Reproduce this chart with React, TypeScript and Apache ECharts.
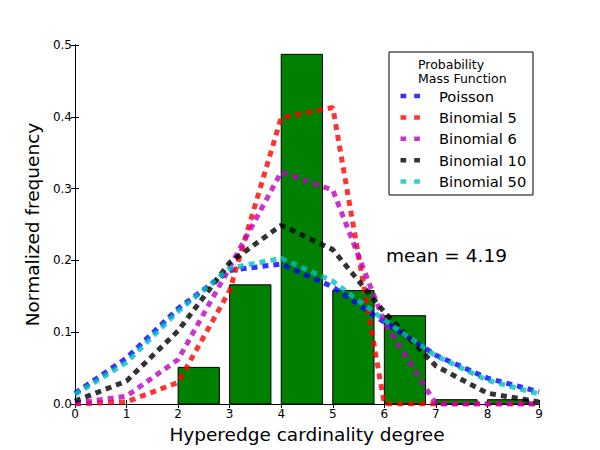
import React, { useEffect, useRef } from "react";
import * as echarts from "echarts";

const degrees = [0, 1, 2, 3, 4, 5, 6, 7, 8, 9];
const barDegrees = [2, 3, 4, 5, 6, 7, 8];
const barFreq = [0.051, 0.166, 0.487, 0.158, 0.123, 0.006, 0.006];

const poisson = [0.015, 0.064, 0.133, 0.186, 0.195, 0.163, 0.114, 0.068, 0.036, 0.017];
const binomial5 = [0.0, 0.003, 0.03, 0.158, 0.399, 0.413, 0.0, 0.0, 0.0, 0.0];
const binomial6 = [0.001, 0.011, 0.062, 0.19, 0.323, 0.298, 0.114, 0.0, 0.0, 0.0];
const binomial10 = [0.004, 0.032, 0.102, 0.197, 0.249, 0.215, 0.128, 0.053, 0.015, 0.003];
const binomial50 = [0.013, 0.058, 0.129, 0.189, 0.203, 0.171, 0.117, 0.067, 0.033, 0.014];

const seriesNames = ["Poisson", "Binomial 5", "Binomial 6", "Binomial 10", "Binomial 50"];
const seriesValues = [poisson, binomial5, binomial6, binomial10, binomial50];
const seriesColors = [
  "rgba(0,0,255,0.8)",
  "rgba(255,0,0,0.8)",
  "rgba(191,0,191,0.8)",
  "rgba(0,0,0,0.8)",
  "rgba(0,191,191,0.8)",
];

const xTicks = [0, 1, 2, 3, 4, 5, 6, 7, 8, 9];
const yTicks = [0.0, 0.1, 0.2, 0.3, 0.4, 0.5];
const legendTitle = ["Probability", "Mass Function"];
const meanLabel = "mean = 4.19";

const FONT = "'DejaVu Sans', sans-serif";

export default function App() {
  const ref = useRef<HTMLDivElement>(null);
  useEffect(() => {
    document.body.style.margin = "0";
    if (!ref.current) return;
    const chart = echarts.init(ref.current, undefined, { renderer: "svg" });

    const lineSeries = seriesNames.map((name, i) => ({
      name,
      type: "line",
      data: degrees.map((d, j) => [d, seriesValues[i][j]]),
      symbol: "none",
      z: 3 + i,
      lineStyle: { color: seriesColors[i], width: 5, type: [6, 5], cap: "butt" },
      itemStyle: { color: seriesColors[i] },
      silent: true,
    }));

    const legendX = 389;
    const legendY = 52;
    const legendW = 144;
    const legendH = 143;
    const legendItems: any[] = [
      {
        type: "rect",
        shape: { x: legendX, y: legendY, width: legendW, height: legendH },
        style: { fill: "#fff", stroke: "#000", lineWidth: 1 },
        z: 20,
      },
      {
        type: "text",
        x: 418,
        y: 64,
        style: { text: legendTitle[0], font: `12.5px ${FONT}`, fill: "#000", verticalAlign: "middle" },
        z: 21,
      },
      {
        type: "text",
        x: 418,
        y: 78,
        style: { text: legendTitle[1], font: `12.5px ${FONT}`, fill: "#000", verticalAlign: "middle" },
        z: 21,
      },
    ];
    seriesNames.forEach((name, i) => {
      const cy = 96 + i * 21.4;
      legendItems.push({
        type: "line",
        shape: { x1: 400.5, y1: cy, x2: 420, y2: cy },
        style: { stroke: seriesColors[i], lineWidth: 4.5, lineDash: [5.7, 8] },
        z: 21,
      });
      legendItems.push({
        type: "text",
        x: 439,
        y: cy,
        style: { text: name, font: `14.7px ${FONT}`, fill: "#000", verticalAlign: "middle" },
        z: 21,
      });
    });
    legendItems.push({
      type: "text",
      x: 386,
      y: 255,
      style: { text: meanLabel, font: `18.5px ${FONT}`, fill: "#000", verticalAlign: "middle" },
      z: 21,
    });

    const axisCommon = {
      type: "value",
      axisLine: { show: true, lineStyle: { color: "#000", width: 1 } },
      axisTick: { show: true, inside: true, length: 4, lineStyle: { color: "#000" } },
      splitLine: { show: false },
    };

    chart.setOption({
      animation: false,
      grid: { left: 75, right: 61, top: 45, bottom: 46, show: false },
      xAxis: [
        {
          ...axisCommon,
          min: 0,
          max: 9,
          interval: 1,
          position: "bottom",
          name: "Hyperedge cardinality degree",
          nameLocation: "middle",
          nameGap: 16,
          nameTextStyle: { fontFamily: FONT, fontSize: 18.5, color: "#000" },
          axisLabel: {
            show: true,
            margin: 4,
            fontFamily: FONT,
            fontSize: 12,
            color: "#000",
            formatter: (v: number) => (xTicks.includes(v) ? String(v) : ""),
          },
        },
        {
          ...axisCommon,
          min: 0,
          max: 9,
          interval: 1,
          position: "top",
          axisLabel: { show: false },
        },
      ],
      yAxis: [
        {
          ...axisCommon,
          min: 0,
          max: 0.5,
          interval: 0.1,
          position: "left",
          name: "Normalized frequency",
          nameLocation: "middle",
          nameGap: 27,
          nameTextStyle: { fontFamily: FONT, fontSize: 18.5, color: "#000" },
          axisLabel: {
            show: true,
            margin: 3,
            fontFamily: FONT,
            fontSize: 12,
            color: "#000",
            formatter: (v: number) => {
              const t = yTicks.find((y) => Math.abs(y - v) < 1e-9);
              return t === undefined ? "" : t.toFixed(1);
            },
          },
        },
        {
          ...axisCommon,
          min: 0,
          max: 0.5,
          interval: 0.1,
          position: "right",
          axisLabel: { show: false },
        },
      ],
      series: [
        {
          type: "custom",
          name: "Observed",
          data: barDegrees.map((d, i) => [d, barFreq[i]]),
          z: 2,
          silent: true,
          renderItem: (params: any, api: any) => {
            const x = api.value(0);
            const y = api.value(1);
            const p0 = api.coord([x, 0]);
            const p1 = api.coord([x + 0.8, y]);
            return {
              type: "rect",
              shape: { x: p0[0], y: p1[1], width: p1[0] - p0[0], height: p0[1] - p1[1] },
              style: { fill: "#008000", stroke: "#000", lineWidth: 1 },
            };
          },
        },
        ...lineSeries,
      ],
      graphic: legendItems,
    });
    return () => chart.dispose();
  }, []);
  return <div ref={ref} style={{ width: 600, height: 450 }} />;
}
